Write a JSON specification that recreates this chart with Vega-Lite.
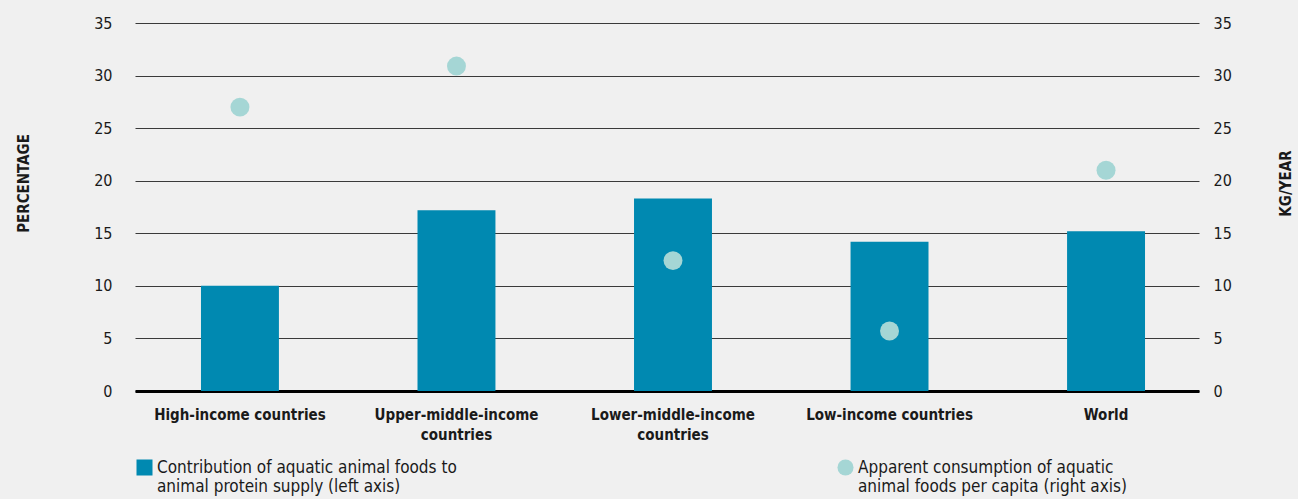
{
  "$schema": "https://vega.github.io/schema/vega-lite/v6.json",
  "autosize": {"type": "none"},
  "width": 1064,
  "height": 368,
  "padding": {"left": 135, "top": 23, "right": 99, "bottom": 108},
  "background": "#F0F0F0",
  "config": {
    "view": {"stroke": null},
    "font": "'DejaVu Sans Condensed', 'Roboto', sans-serif",
    "axis": {"labelFont": "'DejaVu Sans Condensed', 'Roboto', sans-serif", "titleFont": "'DejaVu Sans Condensed', 'Roboto', sans-serif", "labelColor": "#1a1a1a", "titleColor": "#1a1a1a"}
  },
  "data": {
    "values": [
      {"region": "High-income countries", "protein": 10.0, "consumption": 27.0},
      {"region": "Upper-middle-income countries", "protein": 17.2, "consumption": 30.9},
      {"region": "Lower-middle-income countries", "protein": 18.3, "consumption": 12.4},
      {"region": "Low-income countries", "protein": 14.2, "consumption": 5.7},
      {"region": "World", "protein": 15.2, "consumption": 21.0}
    ]
  },
  "encoding": {
    "x": {
      "field": "region",
      "type": "nominal",
      "sort": null,
      "scale": {"paddingInner": 0.64, "paddingOuter": 0.277, "align": 0.55},
      "axis": {
        "title": null,
        "labelAngle": 0,
        "labelFontSize": 15,
        "labelFontWeight": "bold",
        "labelPadding": 16,
        "labelLineHeight": 20,
        "labelLimit": 300,
        "ticks": false,
        "domainColor": "#000000",
        "domainWidth": 3,
        "labelExpr": "length(datum.label) > 25 ? split(replace(datum.label, ' countries', '|countries'), '|') : datum.label"
      }
    }
  },
  "layer": [
    {
      "mark": {"type": "bar"},
      "encoding": {
        "y": {
          "field": "protein",
          "type": "quantitative",
          "scale": {"domain": [0, 35], "nice": false},
          "axis": {
            "title": "PERCENTAGE",
            "titleFontSize": 15,
            "titleFontWeight": "bold",
            "titlePadding": 62,
            "titleY": 160,
            "values": [0, 5, 10, 15, 20, 25, 30, 35],
            "labelFontSize": 16,
            "labelPadding": 23,
            "ticks": false,
            "domain": false,
            "grid": true,
            "gridColor": "#3a3a3a",
            "gridWidth": 1,
            "gridOpacity": 1
          }
        },
        "color": {
          "datum": "Contribution of aquatic animal foods to animal protein supply (left axis)",
          "scale": {"range": ["#0089B1"]},
          "legend": {
            "title": null,
            "orient": "none",
            "legendX": 1,
            "legendY": 436,
            "symbolType": "square",
            "symbolSize": 256,
            "symbolStrokeWidth": 0,
            "labelFontSize": 17,
            "labelLimit": 500,
            "labelColor": "#1a1a1a",
            "labelFont": "'DejaVu Sans Condensed', 'Roboto', sans-serif",
            "labelExpr": "['Contribution of aquatic animal foods to', 'animal protein supply (left axis)']"
          }
        }
      }
    },
    {
      "mark": {"type": "circle", "size": 360, "opacity": 1},
      "encoding": {
        "y": {
          "field": "consumption",
          "type": "quantitative",
          "scale": {"domain": [0, 35], "nice": false},
          "axis": {
            "orient": "right",
            "title": "KG/YEAR",
            "titleAngle": 270,
            "titleFontSize": 15,
            "titleFontWeight": "bold",
            "titlePadding": 62,
            "titleY": 160,
            "values": [0, 5, 10, 15, 20, 25, 30, 35],
            "labelFontSize": 16,
            "labelPadding": 14,
            "ticks": false,
            "domain": false,
            "grid": false
          }
        },
        "color": {
          "datum": "Apparent consumption of aquatic animal foods per capita (right axis)",
          "scale": {"range": ["#A5D6D5"]},
          "legend": {
            "title": null,
            "orient": "none",
            "legendX": 702,
            "legendY": 436,
            "symbolType": "circle",
            "symbolSize": 260,
            "symbolStrokeWidth": 0,
            "symbolOpacity": 1,
            "labelFontSize": 17,
            "labelLimit": 500,
            "labelColor": "#1a1a1a",
            "labelFont": "'DejaVu Sans Condensed', 'Roboto', sans-serif",
            "labelExpr": "['Apparent consumption of aquatic', 'animal foods per capita (right axis)']"
          }
        }
      }
    }
  ],
  "resolve": {"scale": {"y": "independent", "color": "independent"}, "legend": {"color": "independent"}}
}
